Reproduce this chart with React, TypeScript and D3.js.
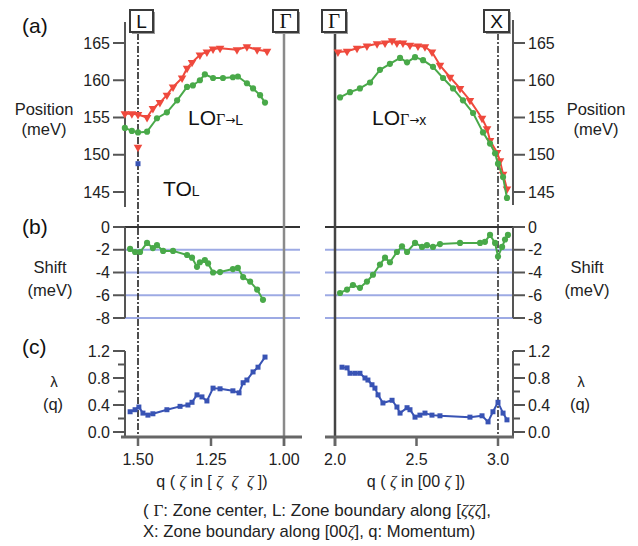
import React from "react";
import * as d3 from "d3";

// ---------- DATA ----------
// Panel (a) left: q along [ζζζ], LO mode positions (meV)
const leftRedQ = [1.545, 1.521, 1.5, 1.469, 1.449, 1.425, 1.401, 1.38, 1.349, 1.332, 1.315, 1.288, 1.264, 1.243, 1.219, 1.161, 1.127, 1.092, 1.058];
const leftRedPos = [155.5, 155.5, 155.4, 155.0, 156.2, 157.0, 158.0, 159.1, 160.3, 161.6, 162.4, 163.4, 163.8, 164.2, 164.3, 164.1, 164.5, 164.1, 163.9];
const leftGreenQ = [1.545, 1.521, 1.5, 1.469, 1.435, 1.401, 1.366, 1.332, 1.312, 1.288, 1.271, 1.243, 1.209, 1.175, 1.158, 1.127, 1.106, 1.082, 1.065];
const leftGreenPos = [153.6, 153.2, 153.0, 153.1, 154.9, 155.7, 157.3, 159.1, 159.3, 160.0, 160.8, 160.3, 160.3, 160.4, 160.5, 159.6, 158.9, 158.0, 157.0];
const toRedQ = [1.5];
const toRedPos = [151.0];
const toBlueQ = [1.5];
const toBluePos = [148.8];

// Panel (a) right: q along [00ζ]
const rightRedQ = [2.018, 2.074, 2.135, 2.196, 2.258, 2.307, 2.35, 2.38, 2.417, 2.46, 2.509, 2.552, 2.595, 2.644, 2.706, 2.767, 2.828, 2.902, 2.933, 2.951, 2.994, 3.012, 3.031, 3.055];
const rightRedPos = [163.8, 163.9, 164.3, 164.6, 164.9, 165.0, 165.3, 165.0, 165.0, 164.7, 164.6, 164.5, 163.8, 162.0, 160.4, 158.9, 157.3, 154.9, 153.5, 151.9, 150.3, 149.2, 147.4, 145.4];
const rightGreenQ = [2.031, 2.092, 2.153, 2.215, 2.276, 2.337, 2.399, 2.442, 2.491, 2.54, 2.601, 2.663, 2.724, 2.785, 2.847, 2.908, 2.951, 2.982, 3.0, 3.031, 3.055];
const rightGreenPos = [157.7, 158.4, 158.9, 159.7, 161.4, 162.2, 163.0, 162.4, 163.1, 162.7, 161.8, 160.3, 158.9, 157.3, 155.6, 153.0, 151.5, 150.2, 148.8, 147.0, 144.2];

// Panel (b): shift (meV)
const leftShiftQ = [1.527, 1.51, 1.493, 1.469, 1.449, 1.435, 1.414, 1.38, 1.332, 1.315, 1.298, 1.288, 1.271, 1.26, 1.243, 1.219, 1.175, 1.158, 1.14, 1.116, 1.092, 1.072];
const leftShift = [-1.93, -2.2, -2.2, -1.4, -1.85, -1.6, -2.1, -2.1, -2.46, -2.7, -3.5, -3.1, -2.9, -3.2, -4.0, -3.96, -3.7, -3.6, -4.4, -4.8, -5.5, -6.4];
const rightShiftQ = [2.031, 2.074, 2.11, 2.153, 2.196, 2.233, 2.276, 2.307, 2.337, 2.38, 2.411, 2.442, 2.491, 2.534, 2.564, 2.601, 2.644, 2.767, 2.89, 2.92, 2.951, 2.982, 3.0, 3.025, 3.043, 3.061];
const rightShift = [-5.8, -5.5, -5.1, -5.35, -4.8, -4.2, -3.3, -2.7, -3.1, -2.2, -1.7, -2.2, -1.4, -1.75, -1.6, -1.75, -1.5, -1.4, -1.4, -1.3, -0.7, -1.4, -2.6, -1.75, -1.1, -0.7];

// Panel (c): λ(q)
const leftLambdaQ = [1.527, 1.51, 1.497, 1.483, 1.466, 1.449, 1.401, 1.356, 1.329, 1.315, 1.298, 1.281, 1.264, 1.243, 1.219, 1.175, 1.154, 1.14, 1.127, 1.106, 1.089, 1.065];
const leftLambda = [0.3, 0.33, 0.37, 0.28, 0.25, 0.27, 0.33, 0.38, 0.4, 0.44, 0.55, 0.52, 0.46, 0.65, 0.64, 0.61, 0.58, 0.73, 0.77, 0.89, 0.96, 1.11];
const rightLambdaQ = [2.043, 2.074, 2.092, 2.123, 2.153, 2.184, 2.202, 2.227, 2.245, 2.264, 2.294, 2.35, 2.38, 2.399, 2.442, 2.46, 2.491, 2.521, 2.552, 2.595, 2.644, 2.828, 2.902, 2.939, 2.969, 3.0, 3.031, 3.055];
const rightLambda = [0.96, 0.95, 0.87, 0.87, 0.87, 0.8, 0.77, 0.7, 0.65, 0.55, 0.43, 0.47, 0.37, 0.28, 0.36, 0.33, 0.22, 0.25, 0.28, 0.25, 0.24, 0.22, 0.24, 0.15, 0.3, 0.44, 0.28, 0.18];

// Ticks
const posTicks = [145, 150, 155, 160, 165];
const shiftTicks = [0, -2, -4, -6, -8];
const shiftGrid = [-2, -4, -6, -8];
const lambdaTicks = [0.0, 0.4, 0.8, 1.2];
const lambdaMinor = [0.2, 0.6, 1.0];
const qLeftTicks = [1.5, 1.25, 1.0];
const qLeftLabels = ["1.50", "1.25", "1.00"];
const qRightTicks = [2.0, 2.5, 3.0];
const qRightLabels = ["2.0", "2.5", "3.0"];

// ---------- STYLE ----------
const RED = "#ef4a3c";
const GREEN = "#4aa94a";
const BLUE = "#3852b4";
const AX = "#555";
const SANS = "'Liberation Sans', Arial, sans-serif";
const SERIF = "'Liberation Serif', 'Times New Roman', serif";
const ARROW = "'DejaVu Sans', sans-serif";
const NB = "\u00a0";

const xL = d3.scaleLinear().domain([1.5, 1.0]).range([138, 284]);
const xR = d3.scaleLinear().domain([2.0, 3.0]).range([335, 498]);
const yA = d3.scaleLinear().domain([145, 165]).range([192, 43]);
const yB = d3.scaleLinear().domain([0, -8]).range([227, 318]);
const yC = d3.scaleLinear().domain([0, 1.2]).range([432, 351]);

const zip = (a: number[], b: number[]) => a.map((v, i) => [v, b[i]] as [number, number]);

type Shape = "tri" | "circ" | "sq";

function Series({ qs, vs, x, y, color, shape, line = true }: { qs: number[]; vs: number[]; x: any; y: any; color: string; shape: Shape; line?: boolean }) {
  const pts = zip(qs, vs);
  const gen = d3.line<[number, number]>().x((d) => x(d[0])).y((d) => y(d[1]));
  const sym =
    shape === "tri"
      ? d3.symbol().type(d3.symbolTriangle).size(32)()
      : shape === "circ"
      ? d3.symbol().type(d3.symbolCircle).size(30)()
      : d3.symbol().type(d3.symbolSquare).size(25)();
  return (
    <g filter="url(#soft)">
      {line && <path d={gen(pts) || ""} fill="none" stroke={color} strokeWidth={2} strokeLinejoin="round" />}
      {pts.map((d, i) => (
        <path
          key={i}
          d={sym || ""}
          fill={color}
          transform={`translate(${x(d[0])},${y(d[1])})${shape === "tri" ? " rotate(180)" : ""}`}
        />
      ))}
    </g>
  );
}

function Box({ x, y, w, h, label, serif }: { x: number; y: number; w: number; h: number; label: string; serif?: boolean }) {
  return (
    <g>
      <rect x={x + 2} y={y + 2} width={w} height={h} fill="#999" />
      <rect x={x} y={y} width={w} height={h} fill="#fff" stroke="#3a3a3a" strokeWidth={2} />
      <text
        x={x + w / 2}
        y={y + h / 2 + 7}
        textAnchor="middle"
        fontFamily={serif ? SERIF : SANS}
        fontSize={serif ? 21 : 19}
        fill="#111"
      >
        {label}
      </text>
    </g>
  );
}

function YAxis({ x, side, scale, ticks, labels, top, bottom, minor }: { x: number; side: "left" | "right"; scale: any; ticks: number[]; labels: string[]; top: number; bottom: number; minor?: number[] }) {
  const dir = side === "left" ? -1 : 1;
  return (
    <g>
      <line x1={x} x2={x} y1={top} y2={bottom} stroke={AX} strokeWidth={2} />
      {ticks.map((t, i) => (
        <g key={i}>
          <line x1={x} x2={x + dir * 12} y1={scale(t)} y2={scale(t)} stroke={AX} strokeWidth={2} />
          <text
            x={x + dir * 15}
            y={scale(t) + 5.5}
            textAnchor={side === "left" ? "end" : "start"}
            fontFamily={SANS}
            fontSize={16}
            fill="#222"
          >
            {labels[i]}
          </text>
        </g>
      ))}
      {(minor || []).map((t, i) => (
        <line key={"m" + i} x1={x} x2={x + dir * 7} y1={scale(t)} y2={scale(t)} stroke={AX} strokeWidth={2} />
      ))}
    </g>
  );
}

export default function App() {
  const posLabels = posTicks.map((t) => String(t));
  const shiftLabels = shiftTicks.map((t) => String(t));
  const lamLabels = lambdaTicks.map((t) => t.toFixed(1));
  const vTop = 33;
  const vBot = 446;
  const Z = (s: string) => (
    <tspan fontFamily={SERIF} fontStyle="italic">
      {s}
    </tspan>
  );
  return (
    <svg width={638} height={546} style={{ position: "absolute", left: 0, top: 0, background: "#fff" }}>
      <defs>
        <filter id="soft" x="-10%" y="-10%" width="120%" height="120%">
          <feGaussianBlur stdDeviation="0.45" />
        </filter>
      </defs>
      {/* grid lines panel b */}
      {shiftGrid.map((t, i) => (
        <g key={i}>
          <line x1={125} x2={300} y1={yB(t)} y2={yB(t)} stroke="#8c9ce0" strokeWidth={2} opacity={0.85} />
          <line x1={325} x2={513} y1={yB(t)} y2={yB(t)} stroke="#8c9ce0" strokeWidth={2} opacity={0.85} />
        </g>
      ))}
      <line x1={113} x2={300} y1={yB(0)} y2={yB(0)} stroke="#333" strokeWidth={2} />
      <line x1={325} x2={524} y1={yB(0)} y2={yB(0)} stroke="#333" strokeWidth={2} />

      {/* vertical lines */}
      <line x1={xL(1.0)} x2={xL(1.0)} y1={vTop} y2={vBot} stroke="#8a8a8a" strokeWidth={2.5} />
      <line x1={xR(2.0)} x2={xR(2.0)} y1={vTop} y2={vBot} stroke="#444" strokeWidth={2.5} />
      <line x1={xL(1.5)} x2={xL(1.5)} y1={vTop} y2={vBot} stroke="#222" strokeWidth={1.6} strokeDasharray="7,2,2,2" />
      <line x1={xR(3.0)} x2={xR(3.0)} y1={vTop} y2={vBot} stroke="#333" strokeWidth={1.6} strokeDasharray="7,2,2,2" />

      {/* y axes */}
      <YAxis x={125} side="left" scale={yA} ticks={posTicks} labels={posLabels} top={22} bottom={207} />
      <YAxis x={513} side="right" scale={yA} ticks={posTicks} labels={posLabels} top={20} bottom={205} />
      <YAxis x={125} side="left" scale={yB} ticks={shiftTicks} labels={shiftLabels} top={yB(0)} bottom={yB(-8)} />
      <YAxis x={513} side="right" scale={yB} ticks={shiftTicks} labels={shiftLabels} top={yB(0)} bottom={yB(-8)} />
      <YAxis x={125} side="left" scale={yC} ticks={lambdaTicks} labels={lamLabels} top={yC(1.2)} bottom={437} minor={lambdaMinor} />
      <YAxis x={513} side="right" scale={yC} ticks={lambdaTicks} labels={lamLabels} top={yC(1.2)} bottom={437} minor={lambdaMinor} />

      {/* x axes */}
      <line x1={121} x2={302} y1={437} y2={437} stroke="#666" strokeWidth={3} />
      <line x1={325} x2={514} y1={437} y2={437} stroke="#666" strokeWidth={3} />
      {qLeftTicks.map((t, i) => (
        <g key={i}>
          <line x1={xL(t)} x2={xL(t)} y1={437} y2={446} stroke="#666" strokeWidth={2.5} />
          <text x={xL(t)} y={465} textAnchor="middle" fontFamily={SANS} fontSize={16} fill="#222">
            {qLeftLabels[i]}
          </text>
        </g>
      ))}
      {qRightTicks.map((t, i) => (
        <g key={i}>
          <line x1={xR(t)} x2={xR(t)} y1={437} y2={446} stroke="#666" strokeWidth={2.5} />
          <text x={xR(t)} y={465} textAnchor="middle" fontFamily={SANS} fontSize={16} fill="#222">
            {qRightLabels[i]}
          </text>
        </g>
      ))}

      {/* boxes */}
      <Box x={130} y={10} w={23} h={22} label="L" />
      <Box x={273} y={10} w={25} h={22} label="Γ" serif />
      <Box x={322} y={10} w={24} h={22} label="Γ" serif />
      <Box x={484} y={10} w={25} h={22} label="X" />

      {/* data */}
      <Series qs={leftRedQ} vs={leftRedPos} x={xL} y={yA} color={RED} shape="tri" />
      <Series qs={leftGreenQ} vs={leftGreenPos} x={xL} y={yA} color={GREEN} shape="circ" />
      <Series qs={toRedQ} vs={toRedPos} x={xL} y={yA} color={RED} shape="tri" line={false} />
      <Series qs={toBlueQ} vs={toBluePos} x={xL} y={yA} color={BLUE} shape="sq" line={false} />
      <Series qs={rightRedQ} vs={rightRedPos} x={xR} y={yA} color={RED} shape="tri" />
      <Series qs={rightGreenQ} vs={rightGreenPos} x={xR} y={yA} color={GREEN} shape="circ" />
      <Series qs={leftShiftQ} vs={leftShift} x={xL} y={yB} color={GREEN} shape="circ" />
      <Series qs={rightShiftQ} vs={rightShift} x={xR} y={yB} color={GREEN} shape="circ" />
      <Series qs={leftLambdaQ} vs={leftLambda} x={xL} y={yC} color={BLUE} shape="sq" />
      <Series qs={rightLambdaQ} vs={rightLambda} x={xR} y={yC} color={BLUE} shape="sq" />

      {/* annotations */}
      <text x={188} y={125} fontFamily={SANS} fontSize={21} fill="#111">
        LO
        <tspan fontFamily={SERIF} fontSize={16}>Γ</tspan>
        <tspan fontFamily={ARROW} fontSize={12} dy={-1}>→</tspan>
        <tspan fontSize={14} dy={1}>L</tspan>
      </text>
      <text x={163} y={196} fontFamily={SANS} fontSize={21} fill="#111">
        TO
        <tspan fontSize={14}>L</tspan>
      </text>
      <text x={372} y={125} fontFamily={SANS} fontSize={21} fill="#111">
        LO
        <tspan fontFamily={SERIF} fontSize={16}>Γ</tspan>
        <tspan fontFamily={ARROW} fontSize={12} dy={-1}>→</tspan>
        <tspan fontSize={14} dy={1}>x</tspan>
      </text>

      {/* panel labels */}
      <text x={22} y={33} fontFamily={SANS} fontSize={21} fill="#111">(a)</text>
      <text x={22} y={234} fontFamily={SANS} fontSize={21} fill="#111">(b)</text>
      <text x={22} y={354} fontFamily={SANS} fontSize={21} fill="#111">(c)</text>

      {/* axis titles */}
      <g fontFamily={SANS} fontSize={16.5} fill="#222" textAnchor="middle">
        <text x={44} y={115}>Position</text>
        <text x={44} y={135}>(meV)</text>
        <text x={596} y={115}>Position</text>
        <text x={596} y={135}>(meV)</text>
        <text x={50} y={273}>Shift</text>
        <text x={50} y={296}>(meV)</text>
        <text x={587} y={273}>Shift</text>
        <text x={587} y={296}>(meV)</text>
        <text x={54} y={387} fontSize={15}>λ</text>
        <text x={53} y={410}>(q)</text>
        <text x={581} y={387} fontSize={15}>λ</text>
        <text x={580} y={410}>(q)</text>
      </g>
      <g fontFamily={SANS} fontSize={16} fill="#222" textAnchor="middle">
        <text x={212} y={487}>
          {"q (" + NB}
          {Z("ζ")}
          {NB + "in [" + NB}
          {Z("ζ")}
          {NB + NB}
          {Z("ζ")}
          {NB + NB}
          {Z("ζ")}
          {NB + "])"}
        </text>
        <text x={416} y={487}>
          {"q (" + NB}
          {Z("ζ")}
          {NB + "in [00" + NB}
          {Z("ζ")}
          {NB + "])"}
        </text>
      </g>
      <g fontFamily={SANS} fontSize={17} fill="#222">
        <text x={143} y={516}>
          {"(" + NB}
          <tspan fontFamily={SERIF}>Γ</tspan>
          {": Zone center, L: Zone boundary along ["}
          {Z("ζζζ")}
          {"],"}
        </text>
        <text x={143} y={537} fontSize={16.6}>
          {"X: Zone boundary along [00"}
          {Z("ζ")}
          {"], q: Momentum)"}
        </text>
      </g>
    </svg>
  );
}
